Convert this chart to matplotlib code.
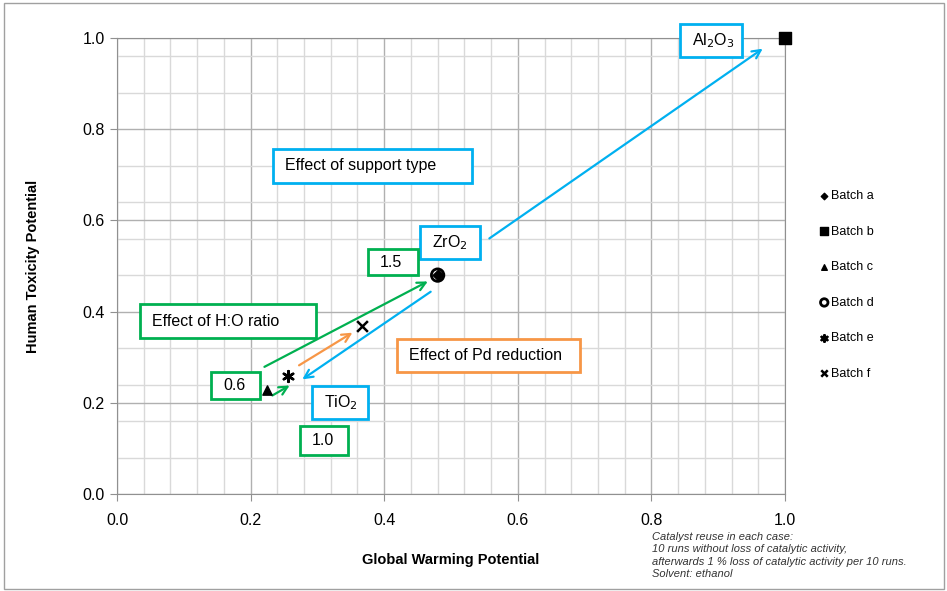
import numpy as np
import matplotlib
matplotlib.use('Agg')
import matplotlib.pyplot as plt
from matplotlib.patches import Rectangle
from matplotlib.ticker import MultipleLocator, FormatStrFormatter

plt.rcParams['font.family'] = ['Liberation Sans', 'DejaVu Sans']

# batch results (Global Warming Potential, Human Toxicity Potential)
batches = ['Batch a', 'Batch b', 'Batch c', 'Batch d', 'Batch e', 'Batch f']
gwp = [0.48, 1.0, 0.225, 0.48, 0.256, 0.367]
htp = [0.48, 1.0, 0.228, 0.48, 0.259, 0.368]
markers = ['D', 's', '^', 'o', (6, 2, 0), 'x']

BLUE = '#00B0F0'
GREEN = '#00B050'
ORANGE = '#F79646'

# arrows: (start, end, colour)
arrows = [
    ((0.554, 0.557), (0.970, 0.980), BLUE),
    ((0.473, 0.447), (0.274, 0.248), BLUE),
    ((0.217, 0.276), (0.469, 0.469), GREEN),
    ((0.229, 0.213), (0.262, 0.241), GREEN),
    ((0.269, 0.279), (0.356, 0.357), ORANGE),
]

# text boxes: label, (x0, x1, y0, y1), colour
boxes = [
    ('Al$_2$O$_3$', (0.843, 0.936, 0.958, 1.031), BLUE),
    ('Effect of support type', (0.2335, 0.531, 0.682, 0.757), BLUE),
    ('ZrO$_2$', (0.4536, 0.543, 0.515, 0.588), BLUE),
    ('1.5', (0.3757, 0.4506, 0.480, 0.537), GREEN),
    ('Effect of H:O ratio', (0.0344, 0.298, 0.342, 0.4167), GREEN),
    ('Effect of Pd reduction', (0.419, 0.693, 0.2675, 0.340), ORANGE),
    ('0.6', (0.1407, 0.214, 0.2083, 0.2675), GREEN),
    ('TiO$_2$', (0.292, 0.3757, 0.1645, 0.2368), BLUE),
    ('1.0', (0.274, 0.3458, 0.0855, 0.149), GREEN),
]

fig = plt.figure(figsize=(9.47, 5.91), dpi=100)
ax = fig.add_axes([117/947, 1 - 494/591, 668/947, 456/591])

ax.set_xlim(0, 1.0)
ax.set_ylim(0, 1.0)
ax.xaxis.set_major_locator(MultipleLocator(0.2))
ax.yaxis.set_major_locator(MultipleLocator(0.2))
ax.xaxis.set_minor_locator(MultipleLocator(0.04))
ax.yaxis.set_minor_locator(MultipleLocator(0.08))
ax.xaxis.set_major_formatter(FormatStrFormatter('%.1f'))
ax.yaxis.set_major_formatter(FormatStrFormatter('%.1f'))
ax.grid(which='major', color='#b0b0b0', lw=1.0)
ax.grid(which='minor', color='#d9d9d9', lw=1.0)
ax.set_axisbelow(True)
for s in ax.spines.values():
    s.set_color('#909090')
ax.tick_params(which='major', length=5, color='#909090', labelsize=11.5)
ax.tick_params(axis='x', pad=9)
ax.tick_params(axis='y', pad=4)
ax.tick_params(which='minor', length=0)

ax.set_xlabel('Global Warming Potential', fontsize=10.5, fontweight='bold', labelpad=18)
ax.set_ylabel('Human Toxicity Potential', fontsize=10.5, fontweight='bold', labelpad=30)

handles = []
for name, x, y, m in zip(batches, gwp, htp, markers):
    if name == 'Batch d':
        h = ax.scatter(x, y, marker=m, s=80, facecolors='none', edgecolors='black',
                       linewidths=2, label=name, zorder=6)
    elif name == 'Batch b':
        h = ax.scatter(x, y, marker=m, s=80, color='black', label=name, zorder=6, clip_on=False)
    elif name == 'Batch a':
        h = ax.scatter(x, y, marker=m, s=30, color='black', label=name, zorder=7)
    elif name == 'Batch c':
        h = ax.scatter(x, y, marker=m, s=45, color='black', label=name, zorder=6)
    else:
        h = ax.scatter(x, y, marker=m, s=60, color='black', linewidths=1.8,
                       label=name, zorder=6)
    handles.append(h)

for (x0, y0), (x1, y1), c in arrows:
    ax.annotate('', xy=(x1, y1), xytext=(x0, y0),
                arrowprops=dict(arrowstyle='->,head_length=0.6,head_width=0.3',
                                color=c, lw=1.6), zorder=5)

pad = 12 / 668
for label, (x0, x1, y0, y1), c in boxes:
    ax.add_patch(Rectangle((x0, y0), x1 - x0, y1 - y0, facecolor='white',
                           edgecolor=c, lw=2, zorder=8, clip_on=False))
    ax.text(x0 + pad, (y0 + y1) / 2, label, fontsize=11.5, va='center', ha='left',
            zorder=9, clip_on=False)

leg = fig.legend(handles=handles, labels=batches, loc='upper left',
                 bbox_to_anchor=(813/947, 1 - 184/591), frameon=False,
                 fontsize=9, labelspacing=1.88, handletextpad=0.1,
                 handlelength=0.8, borderpad=0, markerscale=0.6)

note = ('Catalyst reuse in each case:\n'
        '10 runs without loss of catalytic activity,\n'
        'afterwards 1 % loss of catalytic activity per 10 runs.\n'
        'Solvent: ethanol')
fig.text(652/947, 1 - 532/591, note, fontsize=8, style='italic', va='top',
         ha='left', color='#333333', linespacing=1.3)

fig.add_artist(Rectangle((4/947, 2/591), 940/947, 586/591, transform=fig.transFigure,
                         facecolor='none', edgecolor='#a0a0a0', lw=1))

fig.savefig('out.png', dpi=100)
